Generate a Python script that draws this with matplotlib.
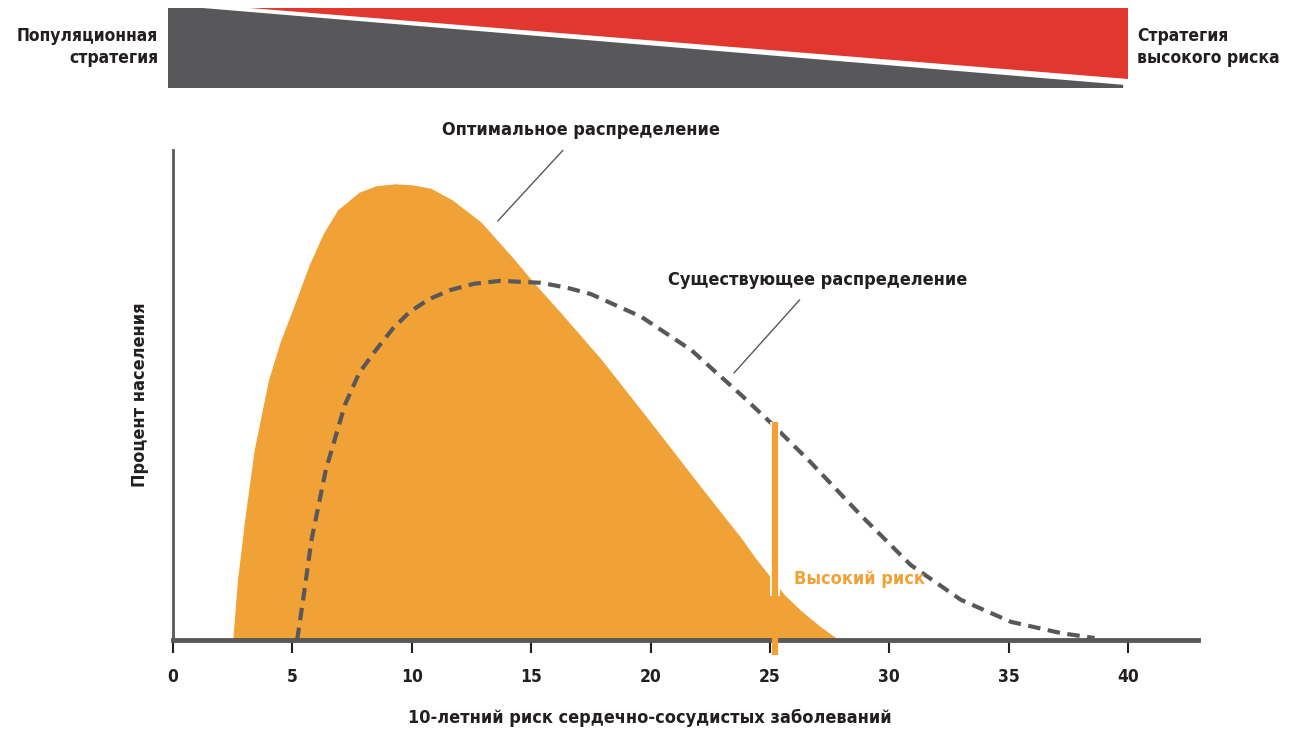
import matplotlib
matplotlib.use("Agg")
import matplotlib.pyplot as plt
from matplotlib.patches import Polygon

# ---------- DATA ----------
# optimal distribution (filled)
opt_x = [2.5, 2.7, 3.0, 3.4, 4.0, 4.5, 5.0, 5.7, 6.3, 6.9, 7.8, 8.5, 9.3, 10.0, 10.8,
         11.7, 12.9, 14.2, 15.1, 16.2, 17.9, 20.0, 22.1, 23.8, 24.4, 25.0, 25.6, 26.3,
         27.1, 27.9]
opt_y = [0, 12.2, 24.5, 38.8, 53.1, 61.0, 67.3, 76.5, 83.0, 87.8, 91.4, 92.7, 93.1, 92.9,
         92.2, 89.8, 85.3, 78.2, 73.0, 67.0, 57.5, 44.5, 31.3, 20.8, 16.7, 13.0, 9.3, 6.0,
         2.8, 0]

# existing distribution (dashed)
cur_x = [5.2, 5.45, 5.8, 6.4, 7.2, 7.8, 8.5, 9.2, 9.9, 10.7, 11.6, 12.6, 13.7, 15.4, 16.5,
         17.5, 19.6, 21.7, 23.8, 25.0, 26.7, 28.8, 30.9, 33.0, 35.1, 37.2, 38.6]
cur_y = [0, 8.2, 20.4, 34.7, 48.0, 54.5, 59.2, 63.5, 66.9, 69.5, 71.4, 72.7, 73.3, 72.9,
         71.9, 70.6, 66.0, 59.2, 50.0, 44.5, 36.3, 25.5, 15.3, 8.2, 3.7, 1.4, 0.4]

high_risk_x = 25.2
high_risk_y = 44.5
x_ticks = [0, 5, 10, 15, 20, 25, 30, 35, 40]

ORANGE = "#f0a236"
GRAY = "#58585a"
RED = "#e2372f"
DARK = "#231f20"

plt.rcParams["font.family"] = ["DejaVu Sans"]
plt.rcParams["font.stretch"] = "condensed"
TXT = dict(fontweight="bold", fontstretch="condensed", color=DARK)

W, H = 1297, 735
fig = plt.figure(figsize=(W / 100, H / 100), dpi=100)

# ---------- TOP BANNER ----------
bx = fig.add_axes([168 / W, (H - 88) / H, (1128 - 168) / W, 80 / H])
bx.set_xlim(0, 1)
bx.set_ylim(0, 1)
bx.axis("off")
bx.add_patch(Polygon([(0, 0), (0, 1), (0.036, 1), (0.995, 0.04), (0.995, 0)],
                     closed=True, color=GRAY, lw=0))
bx.add_patch(Polygon([(0.085, 1), (1, 1), (1, 0.11)], closed=True, color=RED, lw=0))

fig.text(158 / W, 1 - 47 / H, "Популяционная\nстратегия", ha="right", va="center",
         fontsize=12.5, linespacing=1.35, **TXT)
fig.text(1137 / W, 1 - 47 / H, "Стратегия\nвысокого риска", ha="left", va="center",
         fontsize=12.5, linespacing=1.35, **TXT)

# ---------- MAIN CHART ----------
x_px = 23.875
ax = fig.add_axes([173 / W, 95 / H, (1198 - 173) / W, 490 / H])
ax.set_xlim(0, (1198 - 173) / x_px)
ax.set_ylim(0, 100)

ax.fill_between(opt_x, opt_y, 0, color=ORANGE, lw=0, zorder=2)
ax.plot(cur_x, cur_y, color=GRAY, lw=3, linestyle=(0, (3, 1.8)),
        dash_capstyle="butt", zorder=3)

# high risk marker
ax.plot([high_risk_x, high_risk_x], [9, high_risk_y], color="white", lw=7,
        solid_capstyle="butt", zorder=4)
ax.plot([high_risk_x, high_risk_x], [-3, high_risk_y], color=ORANGE, lw=4.5,
        solid_capstyle="butt", clip_on=False, zorder=6)
ax.text(26.0, 12.5, "Высокий риск", fontsize=13, ha="left", va="center",
        fontweight="bold", fontstretch="condensed", color=ORANGE)

# annotations
ax.annotate("Оптимальное распределение", xy=(13.6, 85.5), xytext=(17.1, 104),
            ha="center", va="center", fontsize=13, annotation_clip=False,
            arrowprops=dict(arrowstyle="-", color=GRAY, lw=1, shrinkA=8, shrinkB=0), **TXT)
ax.annotate("Существующее распределение", xy=(23.5, 54.5), xytext=(27.0, 73.5),
            ha="center", va="center", fontsize=13,
            arrowprops=dict(arrowstyle="-", color=GRAY, lw=1, shrinkA=8, shrinkB=0), **TXT)

# axes styling
for s in ["top", "right"]:
    ax.spines[s].set_visible(False)
ax.spines["left"].set_color(GRAY)
ax.spines["left"].set_linewidth(2)
ax.spines["bottom"].set_color(GRAY)
ax.spines["bottom"].set_linewidth(3.5)
ax.spines["bottom"].set_zorder(5)
ax.set_yticks([])
ax.set_xticks(x_ticks)
ax.set_xticklabels([str(t) for t in x_ticks], fontsize=12.5, **TXT)
ax.tick_params(axis="x", direction="out", length=9, width=1.5, color=DARK, pad=11)

ax.set_xlabel("10-летний риск сердечно-сосудистых заболеваний", fontsize=13, va="center", **TXT)
ax.xaxis.set_label_coords((650 - 173) / (1198 - 173), -78 / 490)
ax.set_ylabel("Процент населения", fontsize=13, va="center", **TXT)
ax.yaxis.set_label_coords(-33 / (1198 - 173), 0.5)

fig.savefig("out.png", dpi=100)
